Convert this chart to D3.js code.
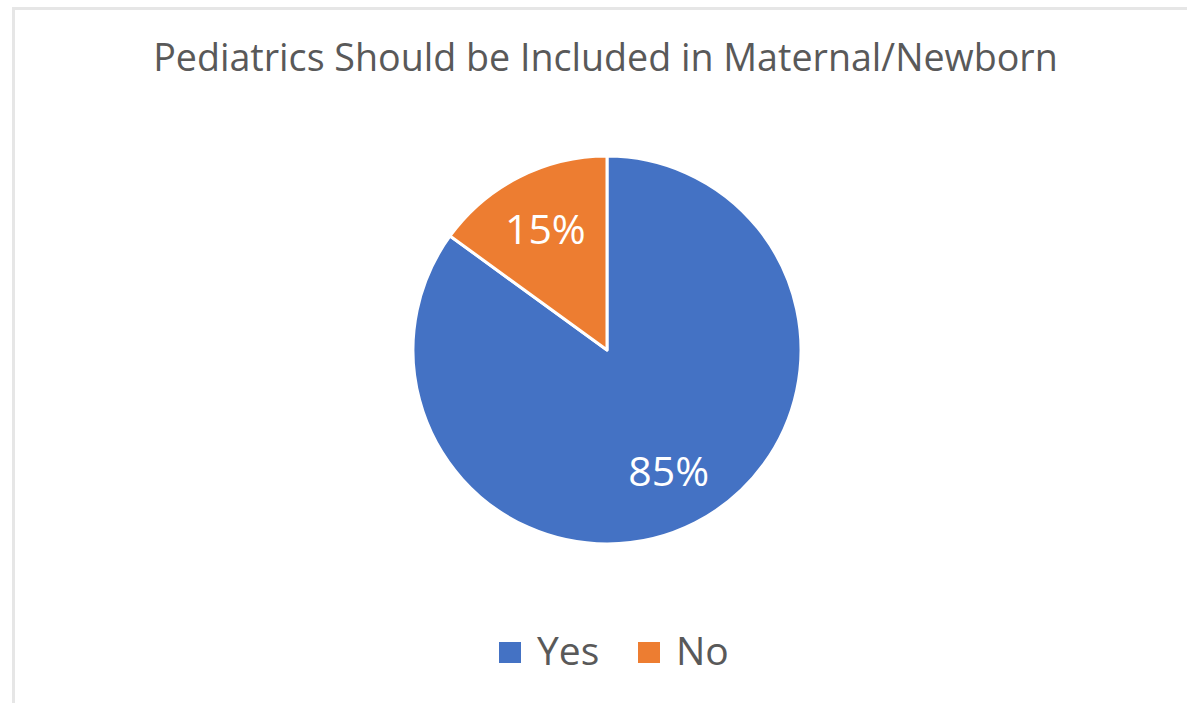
<!DOCTYPE html>
<html>
<head>
<meta charset="utf-8">
<script src="https://cdn.jsdelivr.net/npm/d3@7"></script>
<style>
    html, body { margin: 0; padding: 0; background: #fff; }
    svg { display: block; font-family: "Open Sans", "Noto Sans", sans-serif; }
</style>
</head>
<body>
<svg id="chart" width="1187" height="703"></svg>
<script>
// DATA
const categories = ["Yes", "No"];
const shares = [85, 15];
const sliceColors = ["#4472C4", "#ED7D31"];
const chartTitle = "Pediatrics Should be Included in Maternal/Newborn";

const svg = d3.select("#chart"),
    width = +svg.attr("width"),
    height = +svg.attr("height");

const cx = 607, cy = 350, radius = 194;

// frame (top and left edge only visible in the crop)
svg.append("path")
    .attr("d", `M13.5,${height} L13.5,8.5 L${width},8.5`)
    .attr("fill", "none")
    .attr("stroke", "#e6e6e6")
    .attr("stroke-width", 3);

// fit text to a target width
function fitWidth(sel, target) {
    const base = parseFloat(sel.attr("font-size"));
    const w = sel.node().getComputedTextLength();
    sel.attr("font-size", base * target / w);
}

// title
const title = svg.append("text")
    .attr("x", 605.5)
    .attr("y", 71)
    .attr("text-anchor", "middle")
    .attr("font-size", 34)
    .attr("fill", "#595959")
    .text(chartTitle);
fitWidth(title, 905);

const data = categories.map((c, i) => ({ name: c, value: shares[i] }));

const color = d3.scaleOrdinal().domain(categories).range(sliceColors);

const pie = d3.pie().sort(null).value(d => d.value);
const arc = d3.arc().innerRadius(0).outerRadius(radius);
const labelArc = d3.arc().innerRadius(radius * 0.7).outerRadius(radius * 0.7);

const g = svg.append("g").attr("transform", `translate(${cx},${cy})`);

g.selectAll("path.slice").data(pie(data))
    .join("path")
    .attr("class", "slice")
    .attr("d", arc)
    .attr("fill", d => color(d.data.name))
    .attr("stroke", "#fff")
    .attr("stroke-width", 3)
    .attr("stroke-linejoin", "round");

// percentage labels
g.selectAll("text.lbl").data(pie(data))
    .join("text")
    .attr("class", "lbl")
    .attr("transform", d => `translate(${labelArc.centroid(d)})`)
    .attr("text-anchor", "middle")
    .attr("dy", "0.36em")
    .attr("font-size", 41)
    .attr("fill", "#fff")
    .text(d => d.data.value + "%");

// legend
const legendX = [499, 638];
const legend = svg.append("g");
const items = legend.selectAll("g").data(categories)
    .join("g")
    .attr("transform", (d, i) => `translate(${legendX[i]},642)`);

items.append("rect")
    .attr("width", 22)
    .attr("height", 21)
    .attr("fill", d => color(d));

items.append("text")
    .attr("x", 38)
    .attr("y", 23)
    .attr("font-size", 39)
    .attr("fill", "#595959")
    .text(d => d);
</script>
</body>
</html>
